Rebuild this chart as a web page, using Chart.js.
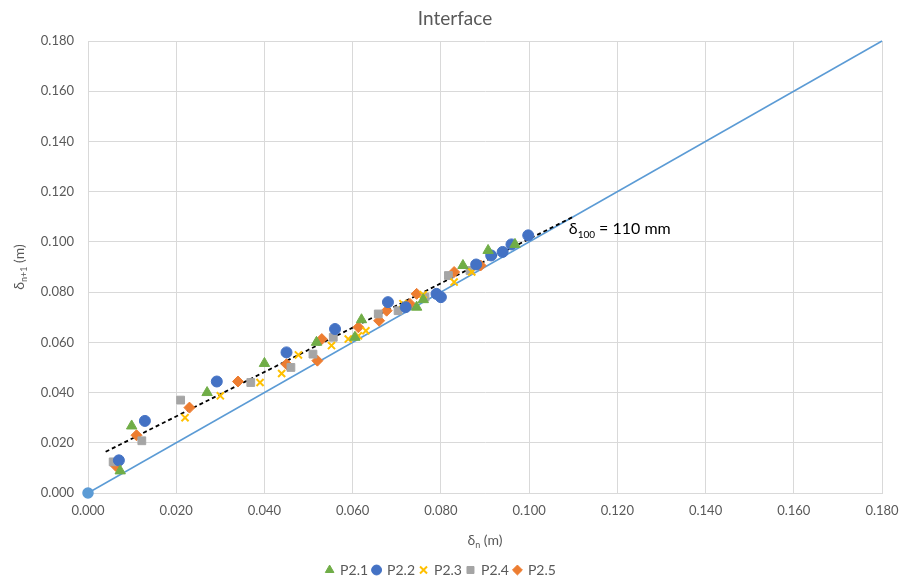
<!DOCTYPE html>
<html>
<head>
<meta charset="utf-8">
<script src="https://cdn.jsdelivr.net/npm/chart.js@4.4.1/dist/chart.umd.min.js"></script>
<style>
  html, body { margin: 0; padding: 0; background: #fff; }
  #wrap { width: 904px; height: 587px; position: relative; }
</style>
</head>
<body>
<div id="wrap"><canvas id="chart" width="904" height="587"></canvas></div>
<script>
// Data: [delta_n, delta_n+1] in metres
const p21 = [[0.0073,0.0088],[0.0099,0.0267],[0.027,0.040],[0.040,0.0516],[0.0518,0.060],[0.0605,0.062],
  [0.062,0.069],[0.0745,0.074],[0.076,0.077],[0.085,0.0906],[0.0907,0.0966],[0.0968,0.099]];
const p22 = [[0.007,0.013],[0.0129,0.0287],[0.0292,0.0444],[0.045,0.056],[0.056,0.0653],[0.068,0.076],
  [0.072,0.074],[0.079,0.0793],[0.080,0.078],[0.088,0.091],[0.0914,0.0946],[0.094,0.096],[0.096,0.099],[0.0998,0.1026]];
const p23 = [[0.022,0.030],[0.030,0.0387],[0.039,0.044],[0.0439,0.0476],[0.0477,0.055],[0.0552,0.0587],
  [0.059,0.0613],[0.0613,0.0626],[0.063,0.0646],[0.0714,0.0754],[0.076,0.079],[0.083,0.084],[0.087,0.088]];
const p24 = [[0.0057,0.0124],[0.0122,0.0208],[0.021,0.037],[0.0369,0.044],[0.046,0.050],[0.051,0.0553],
  [0.0556,0.062],[0.0658,0.0713],[0.0703,0.0726],[0.0764,0.078],[0.0817,0.0866],[0.0866,0.0886]];
const p25 = [[0.0063,0.0108],[0.011,0.023],[0.023,0.034],[0.034,0.0444],[0.045,0.0513],[0.052,0.0527],
  [0.053,0.0613],[0.0613,0.066],[0.066,0.0686],[0.0677,0.0726],[0.073,0.0753],[0.0745,0.0793],[0.083,0.088],[0.089,0.0906]];
const oneToOne = [[0, 0], [0.18, 0.18]];
const trendLine = [[0.004, 0.0164], [0.11, 0.110]];
const seriesNames = ['P2.1', 'P2.2', 'P2.3', 'P2.4', 'P2.5'];
const axisTicks = [0, 0.02, 0.04, 0.06, 0.08, 0.10, 0.12, 0.14, 0.16, 0.18];

const FONT = 'Lato, "Liberation Sans", sans-serif';
const toXY = arr => arr.map(p => ({x: p[0], y: p[1]}));

function scatterSet(label, data, color, style, radius) {
  return {
    label: label, data: toXY(data), type: 'scatter',
    pointStyle: style, pointRadius: radius, pointHoverRadius: radius,
    backgroundColor: color, borderColor: color,
    borderWidth: style === 'crossRot' ? 2 : 1, showLine: false
  };
}

// draw text made of pieces, some of them subscripts
function drawPieces(ctx, pieces, size, x, y, align) {
  const subSize = Math.round(size * 0.62);
  let total = 0;
  pieces.forEach(p => {
    ctx.font = (p.sub ? subSize : size) + 'px ' + FONT;
    p.w = ctx.measureText(p.t).width;
    total += p.w;
  });
  let cx = align === 'center' ? x - total / 2 : x;
  ctx.textAlign = 'left';
  ctx.textBaseline = 'alphabetic';
  pieces.forEach(p => {
    ctx.font = (p.sub ? subSize : size) + 'px ' + FONT;
    ctx.fillText(p.t, cx, p.sub ? y + size * 0.22 : y);
    cx += p.w;
  });
}

const textPlugin = {
  id: 'textPlugin',
  afterDraw(chart) {
    const ctx = chart.ctx;
    const xs = chart.scales.x, ys = chart.scales.y;
    const area = chart.chartArea;
    ctx.save();
    ctx.fillStyle = '#595959';
    ctx.font = '19px ' + FONT;
    ctx.textAlign = 'center';
    ctx.textBaseline = 'alphabetic';
    ctx.fillText('Interface', 455, 25);

    drawPieces(ctx, [{t: 'δ'}, {t: 'n', sub: true}, {t: ' (m)'}], 14, (area.left + area.right) / 2, 545, 'center');

    ctx.save();
    ctx.translate(24, (area.top + area.bottom) / 2);
    ctx.rotate(-Math.PI / 2);
    drawPieces(ctx, [{t: 'δ'}, {t: 'n+1', sub: true}, {t: ' (m)'}], 14, 0, 0, 'center');
    ctx.restore();

    ctx.fillStyle = '#000';
    drawPieces(ctx, [{t: 'δ'}, {t: '100', sub: true}, {t: ' = 110 mm'}], 16,
      xs.getPixelForValue(0.1090), ys.getPixelForValue(0.103), 'left');
    ctx.restore();
  }
};

const axisOpts = {
  type: 'linear', min: 0, max: 0.18,
  afterBuildTicks: s => { s.ticks = axisTicks.map(v => ({value: v})); },
  grid: {color: '#d9d9d9', lineWidth: 1, drawTicks: false},
  border: {color: '#d9d9d9'},
  ticks: {color: '#595959', font: {family: FONT, size: 13}, callback: v => v.toFixed(3)}
};

new Chart(document.getElementById('chart'), {
  type: 'scatter',
  data: {
    datasets: [
      scatterSet(seriesNames[0], p21, '#70ad47', 'triangle', 6),
      scatterSet(seriesNames[1], p22, '#4472c4', 'circle', 5.5),
      scatterSet(seriesNames[2], p23, '#ffc000', 'crossRot', 5),
      scatterSet(seriesNames[3], p24, '#a5a5a5', 'rect', 5.5),
      scatterSet(seriesNames[4], p25, '#ed7d31', 'rectRot', 5.5),
      {
        label: 'trend', data: toXY(trendLine), type: 'line', showLine: true,
        borderColor: '#000', borderWidth: 1.8, borderDash: [4, 3], pointRadius: 0, fill: false
      },
      {
        label: '1:1', data: toXY(oneToOne), type: 'line', showLine: true, clip: false,
        borderColor: '#5b9bd5', backgroundColor: '#5b9bd5', borderWidth: 1.5,
        pointRadius: [5, 0], fill: false
      }
    ]
  },
  options: {
    responsive: false,
    animation: false,
    layout: {padding: {left: 0, right: 22, top: 41, bottom: 0}},
    plugins: {
      title: {display: false},
      tooltip: {enabled: false},
      legend: {
        position: 'bottom',
        labels: {
          usePointStyle: true, boxWidth: 7, boxHeight: 7, padding: 5,
          color: '#595959', font: {family: FONT, size: 14},
          filter: item => seriesNames.includes(item.text)
        }
      }
    },
    scales: {
      x: Object.assign({}, axisOpts, {
        position: 'bottom',
        ticks: Object.assign({}, axisOpts.ticks, {padding: 10, maxRotation: 0}),
        afterFit: s => { s.height = 65; s.paddingRight = 0; s.paddingLeft = 0; }
      }),
      y: Object.assign({}, axisOpts, {
        ticks: Object.assign({}, axisOpts.ticks, {padding: 14}),
        afterFit: s => { s.width = 88; }
      })
    }
  },
  plugins: [textPlugin]
});
</script>
</body>
</html>
